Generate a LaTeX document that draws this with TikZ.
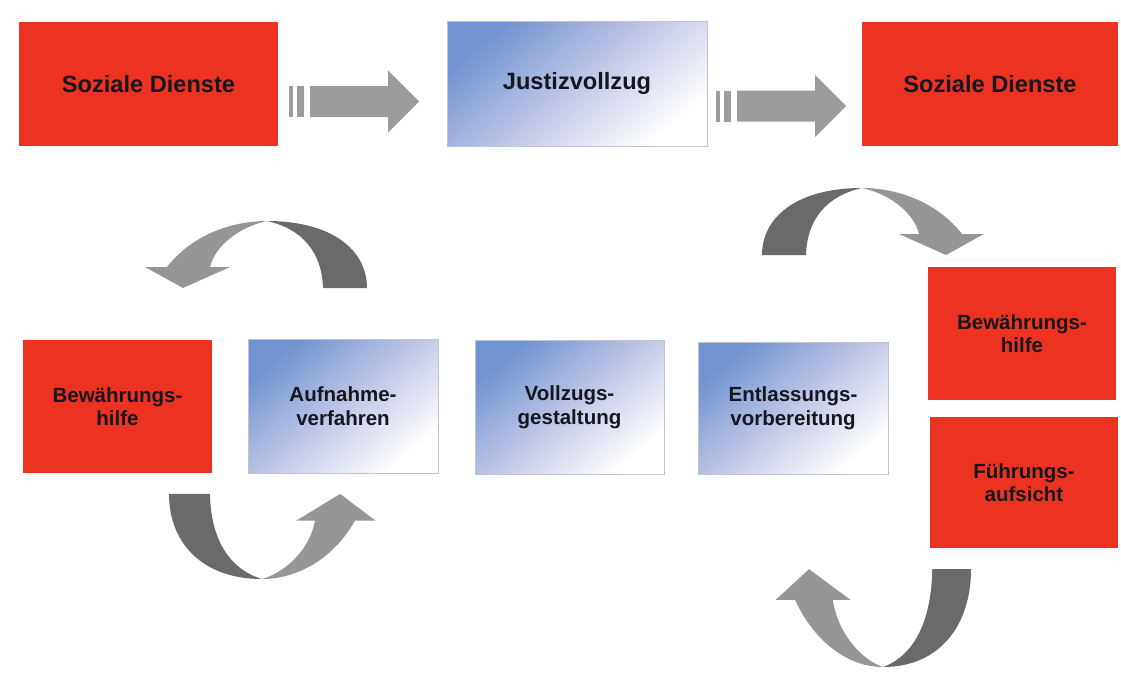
\documentclass[tikz,border=0pt]{standalone}
\usepackage{fontspec}
\setmainfont{Liberation Sans}
\definecolor{redfill}{RGB}{236,51,33}
\definecolor{blueA}{RGB}{112,148,210}
\definecolor{blueB}{RGB}{192,198,230}
\definecolor{darkarr}{RGB}{106,106,106}
\definecolor{lightarr}{RGB}{150,150,150}
\definecolor{straightarr}{RGB}{156,156,156}
\definecolor{txt}{RGB}{22,22,30}
\definecolor{bluebord}{RGB}{195,195,205}
\tikzset{
  redbox/.style={fill=redfill, draw=none, inner sep=0pt, align=center, text=txt},
  bluebox/.style={draw=bluebord, line width=0.8pt, top color=blueA, bottom color=white,
    middle color=blueB, shading angle=40, inner sep=0pt, align=center, text=txt},
  bigtext/.style={font=\bfseries\fontsize{23.6}{28}\selectfont},
  smalltext/.style={font=\bfseries\fontsize{20.5}{23.5}\selectfont},
  curvedarrow/.pic={
    \fill[darkarr] (0,0) .. controls (65,0) and (100,29) .. (100,67) -- (56,67)
      .. controls (55,32) and (36,8) .. (0,0) -- cycle;
    \fill[lightarr] (0,0) .. controls (-38,0) and (-77,16) .. (-100,46) -- (-122,46)
      -- (-84,67) -- (-37,46) -- (-57,46) .. controls (-52,25) and (-28,6) .. (0,0) -- cycle;
  },
  blockarrow/.pic={
    \fill[straightarr] (0,-15.5) rectangle (4,15.5);
    \fill[straightarr] (8,-15.5) rectangle (15,15.5);
    \fill[straightarr] (21,-15.5) -- (99,-15.5) -- (99,-31) -- (130,0) -- (99,31)
      -- (99,15.5) -- (21,15.5) -- cycle;
  },
}
\begin{document}
\begin{tikzpicture}[x=1pt,y=-1pt]
\useasboundingbox (0,0) rectangle (1121,689);
% top row
\node[redbox, bigtext, minimum width=259pt, minimum height=124pt] (sd1) at (148.5,84) {Soziale Dienste};
\node[bluebox, bigtext, minimum width=260pt, minimum height=125pt] (jv) at (577,83.5) {Justizvollzug};
\node[redbox, bigtext, minimum width=256pt, minimum height=124pt] (sd2) at (990,84) {Soziale Dienste};
% middle row
\node[redbox, smalltext, minimum width=189pt, minimum height=133pt] (bh1) at (117.5,406.5) {Bewährungs-\\hilfe};
\node[bluebox, smalltext, minimum width=190pt, minimum height=134pt] (af) at (343,406) {Aufnahme-\\verfahren};
\node[bluebox, smalltext, minimum width=189pt, minimum height=134pt] (vg) at (569.5,407) {Vollzugs-\\gestaltung};
\node[bluebox, smalltext, minimum width=190pt, minimum height=132pt] (ev) at (793,408) {Entlassungs-\\vorbereitung};
% right column
\node[redbox, smalltext, minimum width=188pt, minimum height=133pt] (bh2) at (1022,333.5) {Bewährungs-\\hilfe};
\node[redbox, smalltext, minimum width=188pt, minimum height=131pt] (fa) at (1024,482.5) {Führungs-\\aufsicht};
% straight block arrows
\pic at (289,101.5) {blockarrow};
\pic at (716,106) {blockarrow};
% curved arrows
\pic at (267,221) {curvedarrow};
\pic[xscale=-1] at (862,188) {curvedarrow};
\pic[xscale=-0.93,yscale=-1.27] at (262,579) {curvedarrow};
\pic[xscale=0.88,yscale=-1.46] at (883,667) {curvedarrow};
\end{tikzpicture}
\end{document}
